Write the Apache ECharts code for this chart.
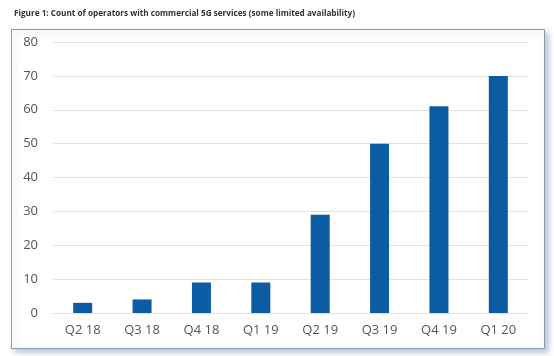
<!DOCTYPE html>
<html><head><meta charset="utf-8">
<script src="https://cdn.jsdelivr.net/npm/echarts@6/dist/echarts.min.js"></script>
<style>html,body{margin:0;padding:0;background:#fff}#c{width:554px;height:356px}</style>
</head><body><div id="c"></div>
<script>
const categories = ['Q2 18','Q3 18','Q4 18','Q1 19','Q2 19','Q3 19','Q4 19','Q1 20'];
const operators = [3, 4, 9, 9, 29, 50, 61, 70];
const titleText = 'Figure 1: Count of operators with commercial 5G services (some limited availability)';

const chart = echarts.init(document.getElementById('c'), null, {renderer:'canvas'});
chart.setOption({
  animation:false,
  backgroundColor:'#fff',
  title:{text:titleText,left:9,top:5,textStyle:{fontFamily:'Open Sans',fontSize:8.2,fontWeight:'bold',color:'#333'}},
  graphic:[{type:'rect',left:11,top:29,z:-1,shape:{width:533,height:319},
    style:{fill:'#fff',stroke:'#8a9aa6',lineWidth:1,shadowColor:'rgba(90,130,170,0.45)',shadowBlur:6,shadowOffsetX:3,shadowOffsetY:3}}],
  grid:{left:53,right:26,top:42,bottom:43,containLabel:false},
  xAxis:{type:'category',data:categories,
    axisLine:{show:true,lineStyle:{color:'#e2e2e2'}},axisTick:{show:false},
    axisLabel:{color:'#555',fontSize:13,fontFamily:'Open Sans',margin:11}},
  yAxis:{type:'value',min:0,max:80,interval:10,
    axisLine:{show:false},axisTick:{show:false},
    splitLine:{lineStyle:{color:'#e2e2e2'}},
    axisLabel:{color:'#555',fontSize:13,fontFamily:'Open Sans',margin:15}},
  series:[{type:'bar',data:operators,barWidth:19,itemStyle:{color:'#0b5ca3'}}]
});
</script></body></html>
